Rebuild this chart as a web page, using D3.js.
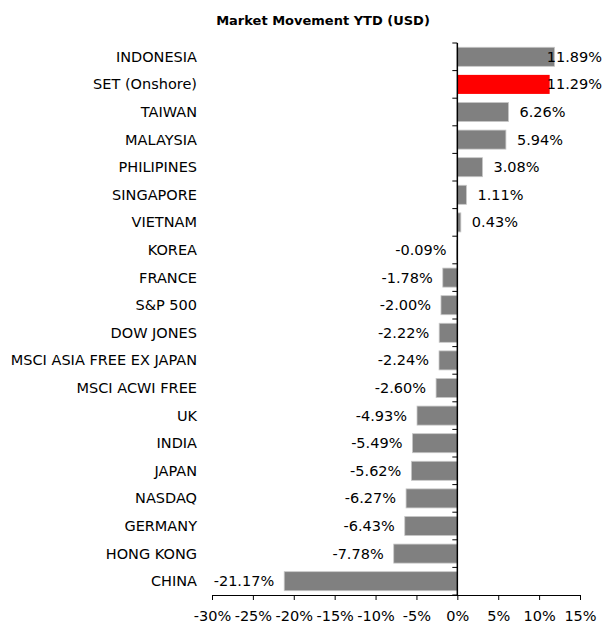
<!DOCTYPE html>
<html>
<head>
<meta charset="utf-8">
<script src="https://cdn.jsdelivr.net/npm/d3@7"></script>
<style>
  body { margin: 0; background: #fff; }
  text { font-family: "DejaVu Sans", sans-serif; }
</style>
</head>
<body>
<script>
// data
var markets = ["INDONESIA", "SET (Onshore)", "TAIWAN", "MALAYSIA", "PHILIPINES", "SINGAPORE",
  "VIETNAM", "KOREA", "FRANCE", "S&P 500", "DOW JONES", "MSCI ASIA FREE EX JAPAN",
  "MSCI ACWI FREE", "UK", "INDIA", "JAPAN", "NASDAQ", "GERMANY", "HONG KONG", "CHINA"];
var ytd = [11.89, 11.29, 6.26, 5.94, 3.08, 1.11, 0.43, -0.09, -1.78, -2.00, -2.22, -2.24,
  -2.60, -4.93, -5.49, -5.62, -6.27, -6.43, -7.78, -21.17];
var xTicks = [-30, -25, -20, -15, -10, -5, 0, 5, 10, 15];
var highlight = "SET (Onshore)";

var W = 610, H = 623;
var fs = "14.5px";
var svg = d3.select("body").append("svg")
  .attr("width", W)
  .attr("height", H);

var x = d3.scaleLinear().domain([-30, 15]).range([212, 580]);
var y = d3.scaleBand().domain(markets).range([43, 595]).paddingInner(0.31).paddingOuter(0.155);

var rows = markets.map(function(m, i){ return {name: m, v: ytd[i]}; });

svg.append("text")
  .attr("x", 323).attr("y", 25)
  .attr("text-anchor", "middle")
  .style("font-weight", "bold")
  .style("font-size", "13px")
  .text("Market Movement YTD (USD)");

// bars
svg.selectAll("rect.bar")
  .data(rows)
  .enter()
  .append("rect")
  .attr("class", "bar")
  .attr("x", function(d){ return x(Math.min(0, d.v)); })
  .attr("y", function(d){ return y(d.name); })
  .attr("width", function(d){ return Math.abs(x(d.v) - x(0)); })
  .attr("height", y.bandwidth())
  .style("fill", function(d){ return d.name == highlight ? "#ff0000" : "#808080"; })
  .style("stroke", function(d){ return d.name == highlight ? "none" : "#c8c8c8"; })
  .style("stroke-width", 0.8);

// category labels
svg.selectAll("text.cat")
  .data(rows)
  .enter()
  .append("text")
  .attr("class", "cat")
  .attr("x", 197)
  .attr("y", function(d){ return y(d.name) + y.bandwidth() / 2; })
  .attr("dy", "0.35em")
  .attr("text-anchor", "end")
  .style("font-size", fs)
  .text(function(d){ return d.name; });

// value labels
var vals = svg.selectAll("text.val")
  .data(rows)
  .enter()
  .append("text")
  .attr("class", "val")
  .attr("y", function(d){ return y(d.name) + y.bandwidth() / 2; })
  .attr("dy", "0.35em")
  .style("font-size", fs)
  .text(function(d){ return d.v.toFixed(2) + "%"; });

vals.each(function(d){
  var t = d3.select(this);
  var w = this.getComputedTextLength();
  if (d.v >= 0) {
    var sx = Math.min(x(d.v) + 11, 602 - w);
    t.attr("x", sx).attr("text-anchor", "start");
  } else {
    t.attr("x", x(d.v) - 10).attr("text-anchor", "end");
  }
});

// y axis at zero with ticks on band boundaries
var bounds = markets.map(function(m){ return y(m) - y.step() * y.paddingInner() / 2; });
bounds.push(595);
svg.selectAll("line.ytick")
  .data(bounds)
  .enter()
  .append("line")
  .attr("class", "ytick")
  .attr("x1", x(0) - 5).attr("x2", x(0))
  .attr("y1", function(d){ return d; }).attr("y2", function(d){ return d; })
  .style("stroke", "#000");

svg.append("line")
  .attr("x1", x(0)).attr("x2", x(0))
  .attr("y1", 43).attr("y2", 595)
  .style("stroke", "#000").style("stroke-width", 1.5);

// x axis
var xAxis = d3.axisBottom(x)
  .tickValues(xTicks)
  .tickSize(5)
  .tickSizeOuter(0)
  .tickFormat(function(d){ return d + "%"; });

var gx = svg.append("g")
  .attr("transform", "translate(0,595)")
  .call(xAxis);
gx.select(".domain").style("stroke", "#000").style("stroke-width", 1.2);
gx.selectAll(".tick line").style("stroke", "#000");
gx.selectAll(".tick text")
  .attr("y", 16)
  .style("font-size", fs)
  .style("font-family", "'DejaVu Sans', sans-serif")
  .style("fill", "#000");
</script>
</body>
</html>
